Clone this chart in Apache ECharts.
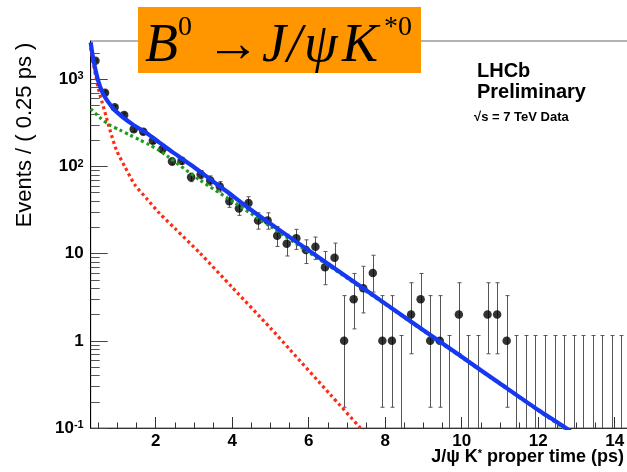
<!DOCTYPE html>
<html><head><meta charset="utf-8">
<script src="https://cdn.jsdelivr.net/npm/echarts@6/dist/echarts.min.js"></script>
<style>html,body{margin:0;padding:0;background:#fff}#c{width:627px;height:472px}</style>
</head><body><div id="c"></div><script>
// ---- data ----
const binCenters = [0.425,0.675,0.925,1.175,1.425,1.675,1.925,2.175,2.425,2.675,2.925,3.175,3.425,3.675,3.925,4.175,4.425,4.675,4.925,5.175,5.425,5.675,5.925,6.175,6.425,6.675,6.925,7.175,7.425,7.675,7.925,8.175,8.425,8.675,8.925,9.175,9.425,9.675,9.925,10.175,10.425,10.675,10.925,11.175,11.425,11.675,11.925,12.175,12.425,12.675,12.925,13.175,13.425,13.675,13.925,14.175,14.425,14.675,14.925];
const counts = [1633,703,478,390,268,251,197,158,114,116,75,81,69,59,40,33,38,24,24,16,13,15,11,12,7,9,1,3,4,6,1,1,0,2,3,1,1,0,2,0,0,2,2,1,0,0,0,0,0,0,0,0,0,0,0,0,0,0,0];
const errLow = [1593,677,456,371,252,235,183,146,104,106,67,72,61,51,34,27.5,32,19.1,19.1,12.1,9.4,11.2,7.7,8.6,4.4,6.6,0.173,1.37,2.09,3.62,0.173,0.173,0,0.71,1.37,0.173,0.173,0,0.71,0,0,0.71,0.71,0.173,0,0,0,0,0,0,0,0,0,0,0,0,0,0,0];
const errHigh = [1674,730,500,410,285,267,211,171,125,127,84,90,78,67,47,39.3,45,29.4,29.4,20.5,16.7,19.0,14.4,15.5,10.6,13.2,3.30,5.92,7.16,9.58,3.30,3.30,1.15,4.64,5.92,3.30,3.30,1.15,4.64,1.15,1.15,4.64,4.64,3.30,1.15,1.15,1.15,1.15,1.15,1.15,1.15,1.15,1.15,1.15,1.15,1.15,1.15,1.15,1.15];

const totalT = [0.3,0.356,0.445,0.53,0.62,0.75,0.925,1.143,1.405,1.756,2.1,2.45,2.98,3.41,3.85,4.38,5,6,7,8,9,10,11,12,12.75,13];
const totalV = [2650,1815,1172,861,692,554,445,367,302,242,188,145,100,72,52,34.5,22,10.9,5.4,2.67,1.32,0.655,0.324,0.161,0.098,0.08];
const promptT = [0.3,0.4,0.5,0.6,0.7,0.8,0.97,1.19,1.45,1.76,2.1,2.5,3.15,4,5,5.5,6.56,7.35,7.6];
const promptV = [2300,1280,780,540,380,265,155,100,62,43,29,19.5,10.2,4.1,1.4,0.8,0.243,0.1,0.075];
const signalT = [0.3,0.53,0.79,1.056,1.32,1.58,1.84,2.1,2.3,3.15,4,5,6,7,8,9,10,11,12,13];
const signalV = [457,367,300,263,230,202,177,152,132,70,40,20.5,10.4,5.25,2.62,1.3,0.645,0.32,0.159,0.079];

const xMajorTicks = [2,4,6,8,10,12,14];
const xMinorTicks = [0.5,1,1.5,2.5,3,3.5,4.5,5,5.5,6.5,7,7.5,8.5,9,9.5,10.5,11,11.5,12.5,13,13.5,14.5,15];
const yMajorTicks = [0.1,1,10,100,1000];
const yMinorTicks = [0.2,0.3,0.4,0.5,0.6,0.7,0.8,0.9,2,3,4,5,6,7,8,9,20,30,40,50,60,70,80,90,200,300,400,500,600,700,800,900,2000];

// ---- chart ----
const chart = echarts.init(document.getElementById('c'), null, {renderer:'canvas'});
const pts = [], bars = [];
for (let i = 0; i < binCenters.length; i++) {
  bars.push([binCenters[i], errLow[i], errHigh[i]]);
  if (counts[i] > 0) pts.push([binCenters[i], counts[i]]);
}
const zip = (a, b) => a.map((v, i) => [v, b[i]]);
const SANS = 'Liberation Sans, Arial, Helvetica, sans-serif';
const SERIF = 'Liberation Serif, DejaVu Serif, Times New Roman, serif';
const supExp = {'-1':'-1','2':'2','3':'3'};
function yLabel(v) {
  const e = Math.round(Math.log10(v));
  if (e === 0) return '{b|1}';
  if (e === 1) return '{b|10}';
  return '{b|10}{s|' + supExp[String(e)] + '}';
}
const xMin = 0.3, xMax = 15, yMin = 0.1, yMax = 2750;

const option = {
  animation: false,
  backgroundColor: '#fff',
  grid: {left: 90.7, top: 41, right: -26, bottom: 44, show: true, borderColor: '#666', borderWidth: 1, containLabel: false, outerBoundsMode: 'none'},
  xAxis: [
    {type:'value', min:xMin, max:xMax, gridIndex:0, position:'bottom',
     axisLine:{show:true, onZero:false, lineStyle:{color:'#333', width:1}},
     axisTick:{show:true, inside:true, length:11, customValues:xMajorTicks, lineStyle:{color:'#333'}},
     axisLabel:{show:true, customValues:xMajorTicks, color:'#000', fontSize:17, fontWeight:'bold', fontFamily:SANS, margin:5},
     splitLine:{show:false}},
    {type:'value', min:xMin, max:xMax, gridIndex:0, position:'bottom',
     axisLine:{show:false}, axisLabel:{show:false}, splitLine:{show:false},
     axisTick:{show:true, inside:true, length:5.5, customValues:xMinorTicks, lineStyle:{color:'#333'}}}
  ],
  yAxis: [
    {type:'log', logBase:10, min:yMin, max:yMax, gridIndex:0, position:'left',
     axisLine:{show:true, onZero:false, lineStyle:{color:'#000', width:1}},
     axisTick:{show:true, inside:true, length:17, customValues:yMajorTicks, lineStyle:{color:'#444'}},
     axisLabel:{show:true, customValues:yMajorTicks, formatter:yLabel, margin:7,
       rich:{b:{fontSize:17, fontWeight:'bold', fontFamily:SANS, color:'#000', lineHeight:17, padding:[3,0,0,0], verticalAlign:'bottom'},
             s:{fontSize:11, fontWeight:'bold', fontFamily:SANS, color:'#000', lineHeight:11, verticalAlign:'top'}}},
     splitLine:{show:false}},
    {type:'log', logBase:10, min:yMin, max:yMax, gridIndex:0, position:'left',
     axisLine:{show:false}, axisLabel:{show:false}, splitLine:{show:false},
     axisTick:{show:true, inside:true, length:9, customValues:yMinorTicks, lineStyle:{color:'#555'}}}
  ],
  series: [
    {type:'custom', xAxisIndex:0, yAxisIndex:0, z:2, clip:true,
     data: bars, encode:{x:0, y:[1,2]},
     renderItem: function(params, api) {
       const x = api.value(0), lo = api.value(1), hi = api.value(2);
       const cs = params.coordSys;
       const pHi = api.coord([x, hi]);
       let pLo, loCap = true;
       if (lo > 0) { pLo = api.coord([x, lo]); } else { pLo = [pHi[0], cs.y + cs.height]; loCap = false; }
       const X = Math.round(pHi[0]) + 0.5;
       const ch = [
         {type:'line', shape:{x1:X, y1:pLo[1], x2:X, y2:pHi[1]}, style:{stroke:'#555', lineWidth:1}},
         {type:'line', shape:{x1:X-2, y1:pHi[1], x2:X+2, y2:pHi[1]}, style:{stroke:'#555', lineWidth:1}}
       ];
       if (loCap) ch.push({type:'line', shape:{x1:X-2, y1:pLo[1], x2:X+2, y2:pLo[1]}, style:{stroke:'#555', lineWidth:1}});
       return {type:'group', children: ch};
     }},
    {type:'scatter', xAxisIndex:0, yAxisIndex:0, z:3, data: pts, symbol:'circle', symbolSize:8.5,
     itemStyle:{color:'#000'}, clip:true},
    {type:'line', xAxisIndex:0, yAxisIndex:0, z:4, data: zip(promptT, promptV), showSymbol:false, smooth:0.25, clip:true,
     lineStyle:{color:'#ff2a10', width:3.2, type:[3,3], cap:'butt'}},
    {type:'line', xAxisIndex:0, yAxisIndex:0, z:4, data: zip(signalT, signalV), showSymbol:false, smooth:0.25, clip:true,
     lineStyle:{color:'#1c9c1c', width:3.2, type:[3,3], cap:'butt'}},
    {type:'line', xAxisIndex:0, yAxisIndex:0, z:5, data: zip(totalT, totalV), showSymbol:false, smooth:0.25, clip:true,
     lineStyle:{color:'#1638f2', width:4.2}}
  ],
  graphic: [
    {type:'rect', shape:{x:138, y:7, width:283, height:66}, style:{fill:'#ff9600'}, z:100},
    {type:'text', x:145, y:46.5, z:101, style:{text:'B', font:'italic 54px ' + SERIF, fill:'#000', align:'left', verticalAlign:'middle'}},
    {type:'text', x:178, y:28, z:101, style:{text:'0', font:'28px ' + SERIF, fill:'#000', align:'left', verticalAlign:'middle'}},
    {type:'text', x:206, y:46.5, z:101, style:{text:'\u2192', font:'54px ' + SERIF, fill:'#000', align:'left', verticalAlign:'middle'}},
    {type:'text', x:262, y:46.5, z:101, style:{text:'J', font:'italic 54px ' + SERIF, fill:'#000', align:'left', verticalAlign:'middle'}},
    {type:'text', x:287, y:46.5, z:101, style:{text:'/', font:'italic 54px ' + SERIF, fill:'#000', align:'left', verticalAlign:'middle'}},
    {type:'text', x:304, y:46.5, z:101, style:{text:'\u03c8', font:'italic 54px ' + SERIF, fill:'#000', align:'left', verticalAlign:'middle'}},
    {type:'text', x:342, y:46.5, z:101, style:{text:'K', font:'italic 54px ' + SERIF, fill:'#000', align:'left', verticalAlign:'middle'}},
    {type:'text', x:384, y:28, z:101, style:{text:'*0', font:'28px ' + SERIF, fill:'#000', align:'left', verticalAlign:'middle'}},
    {type:'text', x:477, y:71, z:101, style:{text:'LHCb', font:'bold 20px ' + SANS, fill:'#000', align:'left', verticalAlign:'middle'}},
    {type:'text', x:477, y:92.5, z:101, style:{text:'Preliminary', font:'bold 20px ' + SANS, fill:'#000', align:'left', verticalAlign:'middle'}},
    {type:'text', x:474, y:117.5, z:101, style:{text:'\u221as = 7 TeV Data', font:'bold 13px ' + SANS, fill:'#000', align:'left', verticalAlign:'middle'}},
    {type:'text', x:25, y:135, rotation:Math.PI/2, z:101, style:{text:'Events / ( 0.25 ps )', font:'22px ' + SANS, fill:'#000', align:'center', verticalAlign:'middle'}},
    {type:'text', x:624, y:457, z:101, style:{text:'{a|J/\u03c8 K}{s|*}{a| proper time (ps)}', align:'right', verticalAlign:'middle',
      rich:{a:{fontSize:18, fontWeight:'bold', fontFamily:SANS, fill:'#000', lineHeight:18, verticalAlign:'bottom'},
            s:{fontSize:11, fontWeight:'bold', fontFamily:SANS, fill:'#000', lineHeight:11, verticalAlign:'top'}}}}
  ]
};
chart.setOption(option);
</script></body></html>
